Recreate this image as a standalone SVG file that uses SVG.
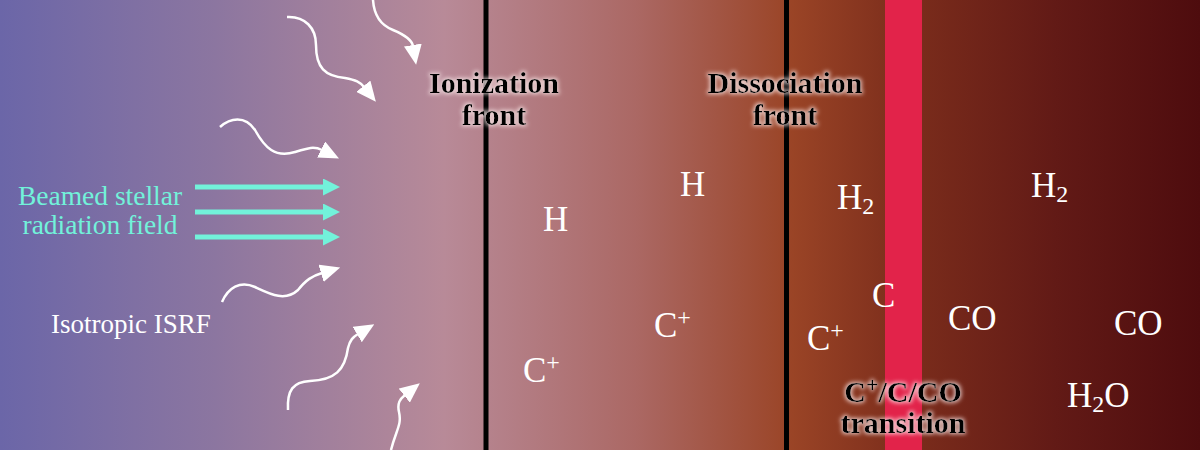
<svg xmlns="http://www.w3.org/2000/svg" width="1200" height="450" viewBox="0 0 1200 450">
<defs>
<linearGradient id="bg" x1="0" y1="0" x2="1" y2="0">
<stop offset="0" stop-color="#6b66a8"/>
<stop offset="0.18" stop-color="#8c76a0"/>
<stop offset="0.37" stop-color="#b88a98"/>
<stop offset="0.53" stop-color="#ab6864"/>
<stop offset="0.66" stop-color="#9a4426"/>
<stop offset="0.75" stop-color="#7d2e1c"/>
<stop offset="0.88" stop-color="#621a16"/>
<stop offset="1" stop-color="#4e0c0e"/>
</linearGradient>
<marker id="wh" viewBox="0 0 20 18" refX="1" refY="9" markerWidth="20" markerHeight="18" markerUnits="userSpaceOnUse" orient="auto">
<path d="M0,0 L20,9 L0,18 Z" fill="#ffffff"/>
</marker>
<marker id="cy" viewBox="0 0 17 17" refX="0" refY="8.5" markerWidth="17" markerHeight="17" markerUnits="userSpaceOnUse" orient="auto">
<path d="M0,0 L17,8.5 L0,17 Z" fill="#72f2da"/>
</marker>
<filter id="glow" x="-20%" y="-40%" width="140%" height="180%">
<feMorphology in="SourceAlpha" operator="dilate" radius="1.2" result="d"/>
<feGaussianBlur in="d" stdDeviation="2" result="b"/>
<feFlood flood-color="#fff0f0" flood-opacity="0.8"/>
<feComposite in2="b" operator="in" result="g"/>
<feMerge><feMergeNode in="g"/><feMergeNode in="SourceGraphic"/></feMerge>
</filter>
<style>
.sp{font-family:"Liberation Serif","Times New Roman",serif;font-size:35px;fill:#ffffff}
.bold{font-family:"Liberation Serif","Times New Roman",serif;font-size:30px;font-weight:bold;fill:#000000;text-anchor:middle;filter:url(#glow)}
.wave{fill:none;stroke:#ffffff;stroke-width:2.5;marker-end:url(#wh)}
.beam{fill:none;stroke:#72f2da;stroke-width:5;marker-end:url(#cy)}
.front{stroke:#000000;stroke-width:5}
</style>
</defs>
<rect x="0" y="0" width="1200" height="450" fill="url(#bg)"/>
<rect id="transition-band" x="885" y="0" width="37" height="450" fill="#e2234a"/>
<g id="fronts">
<line class="front" x1="486" y1="0" x2="486" y2="450"/>
<line class="front" x1="786.5" y1="0" x2="786.5" y2="450"/>
</g>
<g id="connectors">
<path class="beam" d="M195,187 L323,187"/>
<path class="beam" d="M195,212 L323,212"/>
<path class="beam" d="M195,237 L323,237"/>
<path class="wave" d="M373,0 C374,15 380,25 393,30 C405,35 412,40 413,46"/>
<path class="wave" d="M287,17 C305,16 316,28 316,45 C316,68 325,76 345,78 C356,80 360,82 364,87"/>
<path class="wave" d="M220,127 C230,118 245,115 255,130 C265,148 275,158 295,152 C308,148 314,146 322,150"/>
<path class="wave" d="M222,302 C228,288 240,280 255,287 C270,294 285,302 298,290 C306,280 312,276 322,273"/>
<path class="wave" d="M288,410 C287,390 293,382 310,381 C335,380 345,370 348,348 C350,340 353,337 358,334"/>
<path class="wave" d="M391,450 C396,430 402,425 399,412 C397,403 400,399 405,395"/>
</g>
<g id="labels-left">
<text x="100" y="205" text-anchor="middle" style="font-family:'Liberation Serif','Times New Roman',serif;font-size:27.5px;fill:#72f2da">Beamed stellar</text>
<text x="100" y="234" text-anchor="middle" style="font-family:'Liberation Serif','Times New Roman',serif;font-size:27.5px;fill:#72f2da">radiation field</text>
<text x="131" y="333" text-anchor="middle" style="font-family:'Liberation Serif','Times New Roman',serif;font-size:27px;fill:#ffffff">Isotropic ISRF</text>
</g>
<g id="ionization-front-label">
<text class="bold" x="494" y="93">Ionization</text>
<text class="bold" x="494" y="125">front</text>
</g>
<g id="dissociation-front-label">
<text class="bold" x="785" y="93">Dissociation</text>
<text class="bold" x="785" y="125">front</text>
</g>
<g id="transition-label">
<text class="bold" x="903" y="402">C<tspan font-size="22" dy="-10">+</tspan><tspan dy="10">/C/CO</tspan></text>
<text class="bold" x="903" y="433">transition</text>
</g>
<g id="species">
<text class="sp" x="543" y="231">H</text>
<text class="sp" x="680" y="196">H</text>
<text class="sp" x="837" y="209">H<tspan font-size="24" dy="5">2</tspan></text>
<text class="sp" x="1031" y="197">H<tspan font-size="24" dy="5">2</tspan></text>
<text class="sp" x="523" y="382">C<tspan font-size="24" dy="-12">+</tspan></text>
<text class="sp" x="654" y="337">C<tspan font-size="24" dy="-12">+</tspan></text>
<text class="sp" x="807" y="350">C<tspan font-size="24" dy="-12">+</tspan></text>
<text class="sp" x="872" y="307">C</text>
<text class="sp" x="948" y="330">CO</text>
<text class="sp" x="1114" y="335">CO</text>
<text class="sp" x="1067" y="407">H<tspan font-size="24" dy="5">2</tspan><tspan dy="-5">O</tspan></text>
</g>
</svg>
